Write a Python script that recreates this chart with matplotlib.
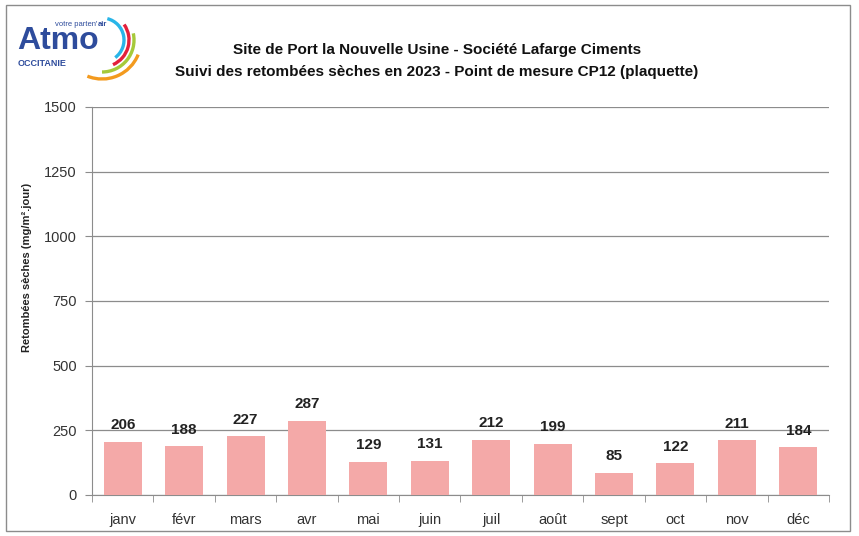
import matplotlib
matplotlib.use("Agg")
import matplotlib.pyplot as plt
from matplotlib.patches import Rectangle, Arc

plt.rcParams['font.family'] = ['Liberation Sans', 'DejaVu Sans']

months = ["janv", "févr", "mars", "avr", "mai", "juin", "juil", "août", "sept", "oct", "nov", "déc"]
values = [206, 188, 227, 287, 129, 131, 212, 199, 85, 122, 211, 184]
yticks = [0, 250, 500, 750, 1000, 1250, 1500]
title = "Site de Port la Nouvelle Usine - Société Lafarge Ciments\nSuivi des retombées sèches en 2023 - Point de mesure CP12 (plaquette)"
ylabel = "Retombées sèches (mg/m².jour)"

W, H = 859, 536
fig = plt.figure(figsize=(W / 100, H / 100), dpi=100)
fig.patch.set_facecolor("white")
fig.add_artist(Rectangle((6 / W, 5 / H), 844 / W, 526 / H, transform=fig.transFigure,
                         fill=False, edgecolor="#8c8c8c", linewidth=1.0))

ax = fig.add_axes([92 / W, 1 - 495 / H, (829 - 92) / W, (495 - 107) / H])
x = list(range(len(months)))
ax.bar(x, values, width=0.62, color="#F4A9A8", zorder=3)
ax.set_xlim(-0.5, len(months) - 0.5)
ax.set_ylim(0, 1500)
ax.set_yticks(yticks)
ax.set_yticklabels([str(v) for v in yticks], fontsize=10.5, color="#333333")
ax.set_xticks(x)
ax.set_xticklabels(months, fontsize=10.5, color="#333333")
ax.grid(axis="y", color="#8c8c8c", linewidth=0.9, zorder=0)
for s in ["top", "right"]:
    ax.spines[s].set_visible(False)
ax.spines["left"].set_color("#8c8c8c")
ax.spines["bottom"].set_color("#8c8c8c")
ax.tick_params(axis="y", length=5, color="#8c8c8c", pad=6)
ax.tick_params(axis="x", length=0, pad=13)
ax.set_xticks([i - 0.5 for i in range(len(months) + 1)], minor=True)
ax.tick_params(axis="x", which="minor", length=5, color="#8c8c8c", direction="out")

for xi, v in zip(x, values):
    ax.annotate(str(v), (xi, v), xytext=(0, 12), textcoords="offset points",
                ha="center", va="center", fontsize=11, fontweight="bold", color="#222222", zorder=4)

fig.text(27 / W, 1 - 267 / H, ylabel, rotation=90, fontsize=8, fontweight="bold",
         color="#222222", ha="center", va="center")

fig.text(437 / W, 1 - 61 / H, title, ha="center", va="center", fontsize=11,
         fontweight="bold", color="#111111", linespacing=1.75)

# Logo (pixel coordinates, y measured up from 100 px below the top)
lax = fig.add_axes([0, 1 - 100 / H, 150 / W, 100 / H])
lax.set_xlim(0, 150)
lax.set_ylim(0, 100)
lax.axis("off")
lax.text(17, 100 - 49, "Atmo", fontsize=23, fontweight="bold", color="#2E4C9C",
         ha="left", va="baseline")
lax.text(18, 100 - 63, "OCCITANIE", fontsize=6.5, fontweight="bold", color="#2E4C9C",
         ha="left", va="center")
lax.text(97, 100 - 24, "votre parten'", fontsize=5.5, color="#2E4C9C", ha="right", va="center")
lax.text(97.5, 100 - 24, "air", fontsize=5.5, fontweight="bold", color="#2E4C9C", ha="left", va="center")
cx, cy = 102, 100 - 40
for r, t1, t2, col in [(22, -53, 76, "#29B5E8"), (27, -66, 35, "#E3203B"),
                       (32, -90, 12, "#A6C93A"), (39, -112, -22, "#F39A1E")]:
    lax.add_patch(Arc((cx, cy), 2 * r, 2 * r, theta1=t1, theta2=t2, color=col, linewidth=2.4))

fig.savefig("out.png", dpi=100)
